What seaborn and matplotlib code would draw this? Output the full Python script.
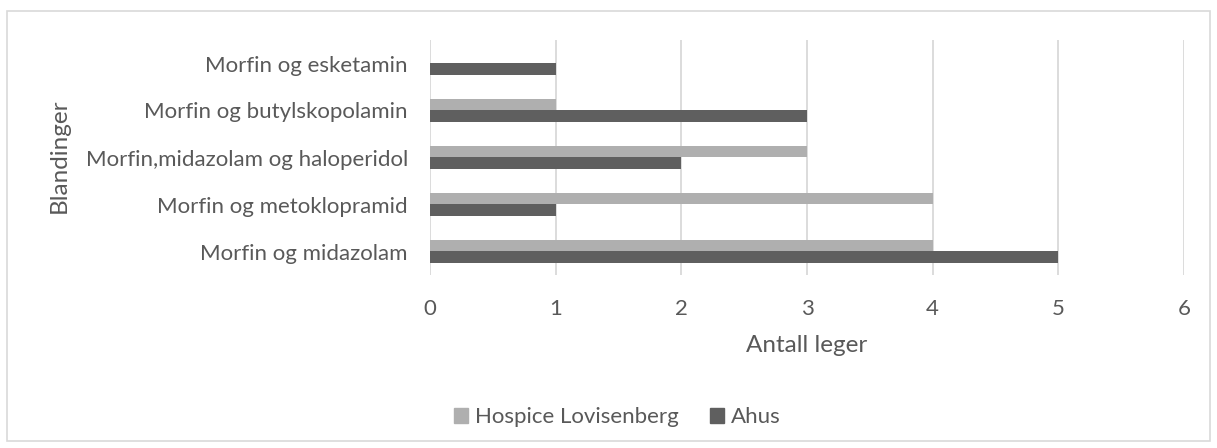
import matplotlib
matplotlib.use("Agg")
import matplotlib.pyplot as plt
import seaborn as sns
import pandas as pd
from matplotlib.patches import Rectangle, Patch

categories = ["Morfin og esketamin", "Morfin og butylskopolamin",
              "Morfin,midazolam og haloperidol", "Morfin og metoklopramid",
              "Morfin og midazolam"]
hospice = [0, 1, 3, 4, 4]
ahus = [1, 3, 2, 1, 5]
series_names = ["Hospice Lovisenberg", "Ahus"]
x_ticks = [0, 1, 2, 3, 4, 5, 6]

df = pd.DataFrame({
    "Blanding": categories * 2,
    "Serie": [series_names[0]] * len(categories) + [series_names[1]] * len(categories),
    "Antall": hospice + ahus,
})

sns.set_theme(style="white")
plt.rcParams['font.family'] = ['Lato', 'DejaVu Sans']
txt = "#595959"
colors = {"Hospice Lovisenberg": "#AFAFAF", "Ahus": "#5F5F5F"}

W, H = 1217, 448
fig = plt.figure(figsize=(W / 100, H / 100), dpi=100)
ax = fig.add_axes([430 / W, 1 - 275 / H, (1184 - 430) / W, (275 - 40) / H])

sns.barplot(data=df, y="Blanding", x="Antall", hue="Serie", order=categories,
            hue_order=series_names, palette=colors, orient="h", width=0.51,
            gap=0, saturation=1, ax=ax, legend=False, linewidth=0)

ax.set_xlim(0, 6)
ax.set_ylim(4.5, -0.5)
ax.set_xticks(x_ticks)
ax.set_xticklabels([str(t) for t in x_ticks])
ax.grid(axis="x", color="#D9D9D9", linewidth=1.3)
ax.grid(axis="y", visible=False)
ax.set_axisbelow(True)
for s in ax.spines.values():
    s.set_visible(False)
ax.tick_params(axis="both", length=0, labelsize=16, labelcolor=txt)
ax.tick_params(axis="x", pad=17)
ax.tick_params(axis="y", pad=16)
ax.set_xlabel("Antall leger", fontsize=17.5, color=txt, labelpad=12)
ax.set_ylabel("")
fig.text(59 / W, 1 - 156 / H, "Blandinger", rotation=90, fontsize=17.5,
         color=txt, ha="center", va="center")

handles = [Patch(color=colors[n]) for n in series_names]
fig.legend(handles, series_names, loc="center", bbox_to_anchor=(617 / W, 1 - 417 / H),
           ncol=2, frameon=False, fontsize=16, labelcolor=txt,
           handlelength=0.65, handleheight=0.65, handletextpad=0.3, columnspacing=1.4)

fig.patches.append(Rectangle((7 / W, 7 / H), (1210 - 7) / W, (437 - 7) / H,
                             transform=fig.transFigure, fill=False,
                             edgecolor="#D9D9D9", linewidth=1.2))

fig.savefig("out.png", dpi=100, facecolor="white")
